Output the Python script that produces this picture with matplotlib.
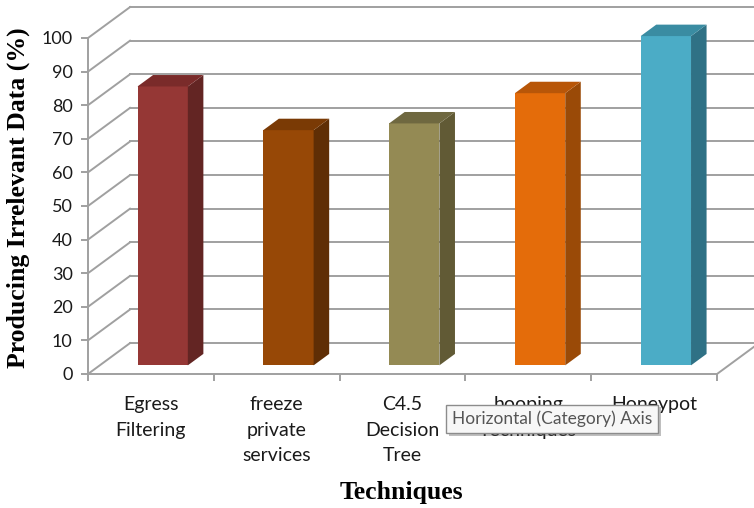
import matplotlib as mpl

mpl.use("Agg")
import matplotlib.pyplot as plt
import matplotlib.patheffects as pe

categories = ["Egress\nFiltering", "freeze\nprivate\nservices", "C4.5\nDecision\nTree",
              "hooping\nTechniques", "Honeypot"]
values = [83, 70, 72, 81, 98]
yticks = [0, 10, 20, 30, 40, 50, 60, 70, 80, 90, 100]

front_colors = ["#953735", "#974806", "#948a54", "#e46c0a", "#4bacc6"]
side_colors = ["#632523", "#5f2e05", "#615a35", "#9a4a07", "#2f7185"]
top_colors = ["#7a2b2a", "#7a3a05", "#6f6840", "#b85608", "#3a8ca2"]

GRID = "#a0a0a0"
DX, DY = 0.334, 9.2        # depth of the 3d box in data units
D0, D1 = 0.28, 0.65        # depth span of the bars
W = 0.40                   # bar width

tick_font = "Lato"

fig = plt.figure(figsize=(7.54, 5.08), dpi=100)
ax = fig.add_axes([88 / 754, 134 / 508, 629 / 754, 336 / 508])
ax.set_xlim(-0.5, len(categories) - 0.5)
ax.set_ylim(0, 100)

# back wall, side wall and floor grid
n = len(categories)
for v in yticks:
    ax.plot([-0.5 + DX, n - 0.5 + DX], [v + DY, v + DY], color=GRID, lw=1.4, clip_on=False, zorder=1)
    ax.plot([-0.5, -0.5 + DX], [v, v + DY], color=GRID, lw=1.4, clip_on=False, zorder=1)
ax.plot([n - 0.5, n - 0.5 + DX], [0, DY], color=GRID, lw=1.4, clip_on=False, zorder=1)

# 3d columns
for i, v in enumerate(values):
    xl = i - W / 2 + D0 * DX
    xr = i + W / 2 + D0 * DX
    y0 = D0 * DY
    bx, by = (D1 - D0) * DX, (D1 - D0) * DY
    ax.fill([xl, xr, xr, xl], [y0, y0, v + y0, v + y0], color=front_colors[i], lw=0,
            clip_on=False, zorder=3)
    ax.fill([xr, xr + bx, xr + bx, xr], [y0, y0 + by, v + y0 + by, v + y0],
            color=side_colors[i], lw=0, clip_on=False, zorder=3)
    ax.fill([xl, xr, xr + bx, xl + bx], [v + y0, v + y0, v + y0 + by, v + y0 + by],
            color=top_colors[i], lw=0, clip_on=False, zorder=3)

for s in ["top", "right"]:
    ax.spines[s].set_visible(False)
for s in ["left", "bottom"]:
    ax.spines[s].set_color(GRID)
    ax.spines[s].set_linewidth(1.4)
    ax.spines[s].set_zorder(2)

ax.set_yticks(yticks)
ax.set_yticklabels([str(t) for t in yticks], fontsize=13, family=tick_font, color="#1a1a1a")
ax.tick_params(axis="y", length=5, width=1.4, color=GRID, pad=6)

ax.set_xticks(range(n))
ax.set_xticklabels(categories, fontsize=14, family=tick_font, color="#1a1a1a", linespacing=1.6)
ax.set_xticks([i - 0.5 for i in range(n + 1)], minor=True)
ax.tick_params(axis="x", which="major", length=0, pad=16)
ax.tick_params(axis="x", which="minor", length=5, width=1.4, color=GRID)

fig.text(18 / 754, 1 - 198 / 508, "Producing Irrelevant Data (%)", rotation=90,
         ha="center", va="center", fontsize=18.5, fontweight="bold", family="Liberation Serif")
fig.text(401 / 754, 1 - 492 / 508, "Techniques", ha="center", va="center",
         fontsize=18.5, fontweight="bold", family="Liberation Serif")

# tooltip left over from the screenshot
tip = fig.text(552 / 754, 1 - 419 / 508, "Horizontal (Category) Axis", ha="center", va="center",
               fontsize=12.5, family=tick_font, color="#555555", zorder=10,
               bbox=dict(boxstyle="square,pad=0.35", fc="#f7f7f7", ec="#8c8c8c", lw=1))
tip.get_bbox_patch().set_path_effects([pe.withSimplePatchShadow(offset=(2, -2), alpha=0.35)])

fig.savefig("out.png", dpi=100)
